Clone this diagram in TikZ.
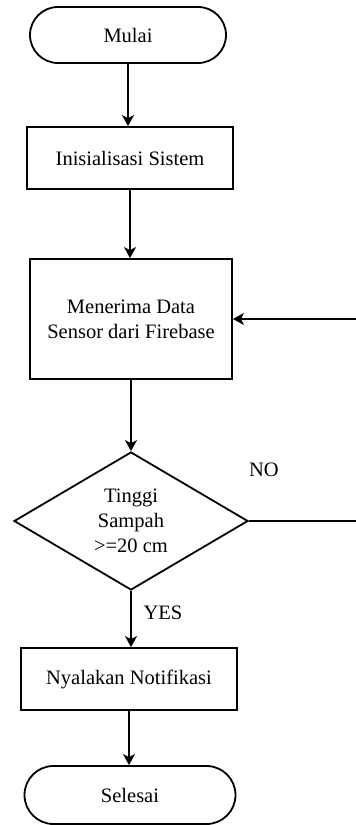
\documentclass[tikz,border=0pt]{standalone}
\usepackage{fontspec}
\setmainfont{Liberation Serif}
\usetikzlibrary{shapes.geometric,arrows.meta,positioning}

\begin{document}
\begin{tikzpicture}[x=1pt,y=-1pt,font=\fontsize{20.5}{25}\selectfont,line width=1.8pt,
       arr/.style={-{Stealth[length=11pt,width=12pt,inset=3pt]}},
       term/.style={draw,rounded corners=28pt,minimum width=196pt,minimum height=56pt,align=center},
       proc/.style={draw,minimum width=206pt,minimum height=62pt,align=center},
       cond/.style={draw,diamond,inner sep=0pt,minimum width=234pt,minimum height=138pt,align=center}]
      \useasboundingbox (0,0) rectangle (356,825);
      \node[term] (start) at (128,35) {Mulai};
      \node[proc] (init) at (130,158) {Inisialisasi Sistem};
      \node[proc,minimum width=202pt,minimum height=120pt] (recv) at (131,319) {Menerima Data\\Sensor dari Firebase};
      \node[cond] (dec) at (131,521) {Tinggi\\Sampah\\>=20 cm};
      \node[proc,minimum width=216pt] (notif) at (129,679) {Nyalakan Notifikasi};
      \node[term,minimum width=211pt,minimum height=58pt,rounded corners=29pt] (stop) at (130,795) {Selesai};
      \node (no) at (264,470) {NO};
      \node (yes) at (163,613) {YES};
      \coordinate (back) at (372,420);
      \draw[arr] (start.south) -- (start.south |- init.north);
      \draw[arr] (init.south) -- (init.south |- recv.north);
      \draw[arr] (recv.south) -- (recv.south |- dec.north);
      \draw[arr] (dec.south) -- (dec.south |- notif.north);
      \draw[arr] (notif.south) -- (notif.south |- stop.north);
      \draw[arr] (dec.east) -| (back) |- (recv.east);
    \end{tikzpicture}
\end{document}
